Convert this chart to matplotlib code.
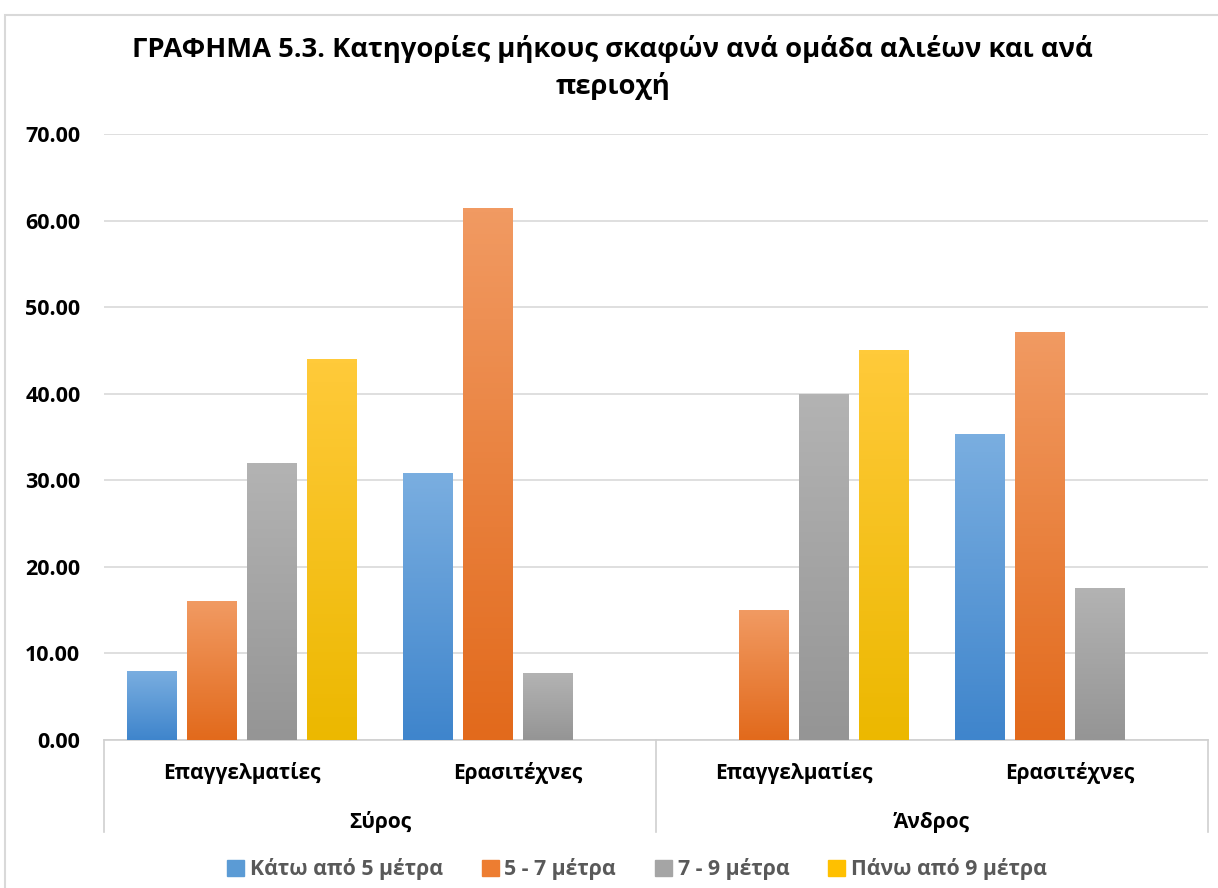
import matplotlib
matplotlib.use('Agg')
import matplotlib.pyplot as plt
import numpy as np
from matplotlib.colors import LinearSegmentedColormap
from matplotlib.patches import Rectangle

plt.rcParams['font.family'] = ['Open Sans', 'DejaVu Sans']

regions = ["Σύρος", "Άνδρος"]
groups = ["Επαγγελματίες", "Ερασιτέχνες", "Επαγγελματίες", "Ερασιτέχνες"]
series = ["Κάτω από 5 μέτρα", "5 - 7 μέτρα", "7 - 9 μέτρα", "Πάνω από 9 μέτρα"]
below_5 = [8.0, 30.8, 0.0, 35.3]
from_5_to_7 = [16.0, 61.5, 15.0, 47.1]
from_7_to_9 = [32.0, 7.7, 40.0, 17.6]
above_9 = [44.0, 0.0, 45.0, 0.0]
values = [below_5, from_5_to_7, from_7_to_9, above_9]

# top colour, bottom colour, legend colour
colors = [("#7aaee0", "#3f85cc", "#5b9bd5"),
          ("#f19a62", "#e26a1c", "#ed7d31"),
          ("#b3b3b3", "#959595", "#a5a5a5"),
          ("#ffca3a", "#ecb800", "#ffc000")]

fig = plt.figure(figsize=(12.18, 8.88), dpi=100)
ax = fig.add_axes([0.0854, 0.1667, 0.9064, 0.6823])

x = np.arange(len(groups))
step = 0.217
width = 0.181
for i, vals in enumerate(values):
    top, bot, _ = colors[i]
    cmap = LinearSegmentedColormap.from_list(f"g{i}", [bot, top])
    grad = np.linspace(0, 1, 100).reshape(-1, 1)
    bars = ax.bar(x + (i - 1.5) * step, vals, width, color=colors[i][2],
                  edgecolor="none", zorder=3)
    for b in bars:
        if b.get_height() <= 0:
            continue
        im = ax.imshow(grad, cmap=cmap, origin="lower", aspect="auto",
                       extent=[b.get_x(), b.get_x() + b.get_width(), 0, b.get_height()],
                       zorder=3)
        im.set_clip_path(b)

ax.set_xlim(-0.5, 3.5)
ax.set_ylim(0, 70)
ax.set_yticks(np.arange(0, 71, 10))
ax.set_yticklabels([f"{v:.2f}" for v in np.arange(0, 71, 10)],
                   fontsize=15.5, fontweight="bold")
ax.tick_params(axis="y", length=0, pad=17)
ax.set_xticks([])
ax.grid(axis="y", color="#d9d9d9", linewidth=1.2, zorder=0)
for s in ["top", "right", "left"]:
    ax.spines[s].set_visible(False)
ax.spines["bottom"].set_color("#d0d0d0")
ax.spines["bottom"].set_linewidth(1.2)

# two-level category axis
trans = ax.get_xaxis_transform()
for xv in [-0.5, 1.5, 3.5]:
    ax.plot([xv, xv], [0, -0.152], transform=trans, color="#d0d0d0",
            linewidth=1.2, clip_on=False)
for xi, g in zip(x, groups):
    ax.text(xi, -0.055, g, transform=trans, ha="center", va="center",
            fontsize=15, fontweight="bold")
for k, r in enumerate(regions):
    ax.text(2 * k + 0.5, -0.136, r, transform=trans, ha="center", va="center",
            fontsize=15, fontweight="bold")

handles = [Rectangle((0, 0), 1, 1, color=c[2]) for c in colors]
fig.legend(handles, series, loc="center", bbox_to_anchor=(0.523, 0.021), ncol=4,
           frameon=False, handlelength=0.8, handleheight=0.8, handletextpad=0.25,
           columnspacing=1.85, prop={"size": 15.3, "weight": "bold"},
           labelcolor="#595959")

fig.text(0.503, 0.924, "ΓΡΑΦΗΜΑ 5.3. Κατηγορίες μήκους σκαφών ανά ομάδα αλιέων και ανά\nπεριοχή",
         ha="center", va="center", fontsize=19.7, fontweight="bold", linespacing=1.4)

fig.patches.append(Rectangle((0.004, -0.01), 1.0, 0.993, transform=fig.transFigure,
                             fill=False, edgecolor="#d9d9d9", linewidth=1.5))

fig.savefig("out.png", dpi=100)
